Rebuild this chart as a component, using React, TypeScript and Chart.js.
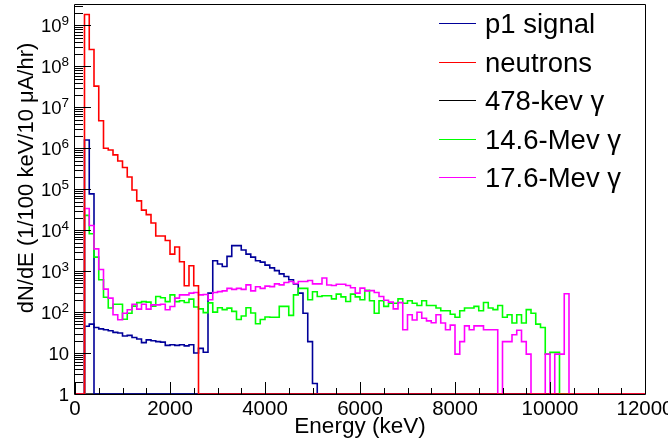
import React, { useEffect, useRef } from 'react';
import { Chart, registerables } from 'chart.js';

Chart.register(...registerables);

// ---- axis definitions ----
const BIN_WIDTH = 100; // keV per bin
const X_MIN = 0;
const X_MAX = 12000;
const Y_MIN = 1;
const Y_MAX = Math.pow(10, 9.5);
const xTickLabels = ['0', '2000', '4000', '6000', '8000', '10000', '12000'];
const yTickDecades = [0, 1, 2, 3, 4, 5, 6, 7, 8, 9];
const xTitle = 'Energy (keV)';
const yTitle = 'dN/dE (1/100 keV/10 \u03bcA/hr)';

const legendLabels = ['p1 signal', 'neutrons', '478-kev \u03b3', '14.6-Mev \u03b3', '17.6-Mev \u03b3'];

// ---- histogram contents, 100 keV bins from 0 to 12000 keV ----
const p1Signal = [
  0, 0, 45, 51, 42, 39, 37, 35, 32, 31, 26, 27, 24, 22, 18, 21, 20, 19, 18.5, 15.4,
  16, 15.4, 16, 15, 16, 10, 13, 10.5, 290, 1800, 1500, 1300, 2300, 4200, 4200, 3300, 2600, 2200, 1800, 1660,
  1400, 1200, 1030, 860, 740, 615, 490, 290, 94, 19, 1.8, 0, 0, 0, 0, 0, 0, 0, 0, 0,
  0, 0, 0, 0, 0, 0, 0, 0, 0, 0, 0, 0, 0, 0, 0, 0, 0, 0, 0, 0,
  0, 0, 0, 0, 0, 0, 0, 0, 0, 0, 0, 0, 0, 0, 0, 0, 0, 0, 0, 0,
  0, 0, 0, 0, 0, 0, 0, 0, 0, 0, 0, 0, 0, 0, 0, 0, 0, 0, 0, 0,
];

const p1Peak = [
  0, 0, 1.6e6, 7.7e4, 0, 0, 0, 0, 0, 0, 0, 0, 0, 0, 0, 0, 0, 0, 0, 0,
  0, 0, 0, 0, 0, 0, 0, 0, 0, 0, 0, 0, 0, 0, 0, 0, 0, 0, 0, 0,
  0, 0, 0, 0, 0, 0, 0, 0, 0, 0, 0, 0, 0, 0, 0, 0, 0, 0, 0, 0,
  0, 0, 0, 0, 0, 0, 0, 0, 0, 0, 0, 0, 0, 0, 0, 0, 0, 0, 0, 0,
  0, 0, 0, 0, 0, 0, 0, 0, 0, 0, 0, 0, 0, 0, 0, 0, 0, 0, 0, 0,
  0, 0, 0, 0, 0, 0, 0, 0, 0, 0, 0, 0, 0, 0, 0, 0, 0, 0, 0, 0,
];

const neutrons = [
  0, 0, 1.85e9, 2.6e8, 3.3e7, 4.7e6, 1.0e6, 9.1e5, 6.9e5, 4.9e5, 3.4e5, 2.0e5, 9.6e4, 5.2e4, 3.1e4, 2.4e4, 1.5e4, 7200, 7200, 5600,
  2600, 3900, 1700, 440, 1350, 440, 0, 0, 0, 0, 0, 0, 0, 0, 0, 0, 0, 0, 0, 0,
  0, 0, 0, 0, 0, 0, 0, 0, 0, 0, 0, 0, 0, 0, 0, 0, 0, 0, 0, 0,
  0, 0, 0, 0, 0, 0, 0, 0, 0, 0, 0, 0, 0, 0, 0, 0, 0, 0, 0, 0,
  0, 0, 0, 0, 0, 0, 0, 0, 0, 0, 0, 0, 0, 0, 0, 0, 0, 0, 0, 0,
  0, 0, 0, 0, 0, 0, 0, 0, 0, 0, 0, 0, 0, 0, 0, 0, 0, 0, 0, 0,
];

const gamma478 = [
  0, 0, 0, 0, 0, 0, 0, 0, 0, 0, 0, 0, 0, 0, 0, 0, 0, 0, 0, 0,
  0, 0, 0, 0, 0, 0, 0, 0, 0, 0, 0, 0, 0, 0, 0, 0, 0, 0, 0, 0,
  0, 0, 0, 0, 0, 0, 0, 0, 0, 0, 0, 0, 0, 0, 0, 0, 0, 0, 0, 0,
  0, 0, 0, 0, 0, 0, 0, 0, 0, 0, 0, 0, 0, 0, 0, 0, 0, 0, 0, 0,
  0, 0, 0, 0, 0, 0, 0, 0, 0, 0, 0, 0, 0, 0, 0, 0, 0, 0, 0, 0,
  0, 0, 0, 0, 0, 0, 0, 0, 0, 0, 0, 0, 0, 0, 0, 0, 0, 0, 0, 0,
];

const gamma14_6 = [
  0, 0, 2.3e4, 8200, 2200, 615, 230, 126, 156, 156, 67, 94, 140, 170, 180, 175, 140, 240, 225, 180,
  263, 180, 189, 172, 208, 133, 120, 97, 168, 100, 128, 115, 125, 104, 66, 80, 128, 95, 52, 66,
  76, 75, 75, 138, 138, 83, 263, 380, 380, 200, 315, 240, 250, 250, 210, 275, 235, 182, 275, 235,
  200, 340, 190, 94, 190, 138, 165, 165, 210, 165, 190, 165, 145, 190, 145, 145, 126, 108, 108, 89,
  75, 108, 126, 126, 138, 108, 172, 126, 115, 145, 75, 86, 54, 86, 54, 115, 94, 51, 42, 9.4,
  10.4, 10.4, 0, 0, 0, 0, 0, 0, 0, 0, 0, 0, 0, 0, 0, 0, 0, 0, 0, 0,
];

const gamma17_6 = [
  0, 0, 3.4e4, 1.3e4, 3500, 1100, 365, 220, 86, 65, 94, 114, 156, 118, 156, 118, 150, 150, 156, 114,
  137, 220, 263, 263, 290, 300, 263, 270, 200, 300, 316, 330, 380, 360, 380, 360, 462, 330, 415, 380,
  430, 420, 490, 462, 530, 560, 500, 560, 560, 590, 490, 490, 680, 460, 445, 480, 480, 445, 395, 290,
  385, 330, 335, 300, 240, 195, 175, 120, 170, 37, 86, 64, 99, 71, 61, 55, 86, 54, 37, 48,
  9.4, 19, 46, 37, 46, 46, 37, 37, 37, 0, 19, 19, 28, 36, 19, 9.4, 0, 0, 0, 9.4,
  0, 9.4, 9.4, 280, 0, 0, 0, 0, 0, 0, 0, 0, 0, 0, 0, 0, 0, 0, 0, 0,
];

const NAVY = '#000099';
const RED = '#ff0000';
const BLACK = '#000000';
const GREEN = '#00ff00';
const MAGENTA = '#ff00ff';
const legendColors = [NAVY, RED, BLACK, GREEN, MAGENTA];

const FONT = "'Liberation Sans', Arial, Helvetica, sans-serif";

function toSteps(values: number[]) {
  const pts = values.map((v, i) => ({ x: X_MIN + i * BIN_WIDTH, y: Math.max(v, Y_MIN) }));
  const last = values[values.length - 1];
  pts.push({ x: X_MIN + values.length * BIN_WIDTH, y: Math.max(last, Y_MIN) });
  return pts;
}

const rootAxesPlugin = {
  id: 'rootAxes',
  afterDatasetsDraw(chart: any) {
    const ctx: CanvasRenderingContext2D = chart.ctx;
    const { left, right, top, bottom } = chart.chartArea;
    const xs = chart.scales.x;
    const ys = chart.scales.y;
    ctx.save();
    ctx.strokeStyle = '#000';
    ctx.lineWidth = 1;
    // frame
    ctx.beginPath();
    ctx.rect(Math.round(left) - 0.5, Math.round(top) - 0.5, Math.round(right - left) + 1, Math.round(bottom - top) + 1);
    ctx.stroke();

    // y ticks
    ctx.beginPath();
    for (const d of yTickDecades) {
      for (let m = 1; m <= 9; m++) {
        const v = m * Math.pow(10, d);
        if (v > Y_MAX) break;
        const y = Math.round(ys.getPixelForValue(v)) + 0.5;
        const len = m === 1 ? 16 : 8;
        ctx.moveTo(left, y);
        ctx.lineTo(left + len, y);
      }
    }
    // x ticks
    for (let e = X_MIN; e <= X_MAX; e += 500) {
      const x = Math.round(xs.getPixelForValue(e)) + 0.5;
      const len = e % 2000 === 0 ? 12 : 6;
      ctx.moveTo(x, bottom);
      ctx.lineTo(x, bottom - len);
    }
    ctx.stroke();

    // x labels
    ctx.fillStyle = '#000';
    ctx.font = `20.5px ${FONT}`;
    ctx.textAlign = 'center';
    ctx.textBaseline = 'alphabetic';
    xTickLabels.forEach((lab) => {
      const x = xs.getPixelForValue(Number(lab));
      ctx.fillText(lab, x, 415);
    });

    // y labels
    const labRight = 69;
    for (const d of yTickDecades) {
      const y = ys.getPixelForValue(Math.pow(10, d));
      if (d === 0) {
        ctx.font = `18.5px ${FONT}`;
        ctx.textAlign = 'right';
        ctx.fillText('1', labRight, y + 6.5);
      } else if (d === 1) {
        ctx.font = `18.5px ${FONT}`;
        ctx.textAlign = 'right';
        ctx.fillText('10', labRight, y + 6.5);
      } else {
        ctx.font = `13.5px ${FONT}`;
        ctx.textAlign = 'right';
        const exp = String(d);
        const ew = ctx.measureText(exp).width;
        ctx.fillText(exp, labRight, y - 0.5);
        ctx.font = `18.5px ${FONT}`;
        ctx.fillText('10', labRight - ew, y + 7);
      }
    }

    // axis titles
    ctx.font = `22.5px ${FONT}`;
    ctx.textAlign = 'center';
    ctx.fillText(xTitle, (left + right) / 2, 433);
    ctx.save();
    ctx.translate(33, 178);
    ctx.rotate(-Math.PI / 2);
    ctx.font = `22px ${FONT}`;
    ctx.fillText(yTitle, 0, 0);
    ctx.restore();

    // legend
    const legendY = [23.3, 61.7, 100, 139.3, 176.7];
    const legendFont = 27.5;
    ctx.font = `${legendFont}px ${FONT}`;
    ctx.textAlign = 'left';
    legendLabels.forEach((lab, i) => {
      const y = legendY[i];
      ctx.strokeStyle = legendColors[i];
      ctx.lineWidth = 1;
      ctx.beginPath();
      ctx.moveTo(439, Math.round(y) + 0.5);
      ctx.lineTo(476, Math.round(y) + 0.5);
      ctx.stroke();
      ctx.fillStyle = '#000';
      ctx.fillText(lab, 485, y + legendFont * 0.358);
    });
    ctx.restore();
  },
};

export default function App() {
  const canvasRef = useRef<HTMLCanvasElement | null>(null);

  useEffect(() => {
    document.body.style.margin = '0';
    const canvas = canvasRef.current;
    if (!canvas) return;
    const mk = (label: string, values: number[], color: string) => ({
      label,
      data: toSteps(values),
      borderColor: color,
      backgroundColor: color,
      borderWidth: 1.6,
      stepped: 'before' as const,
      pointRadius: 0,
      fill: false,
    });
    // dataset 0 is drawn on top in Chart.js
    const datasets = [
      mk(legendLabels[1], neutrons, RED),
      mk(legendLabels[4], gamma17_6, MAGENTA),
      mk(legendLabels[3], gamma14_6, GREEN),
      mk('p1 peak', p1Peak, NAVY),
      mk(legendLabels[0], p1Signal, NAVY),
      mk(legendLabels[2], gamma478, BLACK),
    ];
    const chart = new Chart(canvas, {
      type: 'line',
      data: { datasets },
      options: {
        animation: false,
        responsive: false,
        devicePixelRatio: 1,
        layout: { padding: { left: 0, right: 23, top: 5, bottom: 0 } },
        plugins: { legend: { display: false }, tooltip: { enabled: false } },
        elements: { point: { radius: 0 }, line: { tension: 0 } },
        scales: {
          x: {
            type: 'linear',
            min: X_MIN,
            max: X_MAX,
            ticks: { display: false },
            grid: { display: false },
            border: { display: false },
            afterFit: (s: any) => { s.height = 51; },
          },
          y: {
            type: 'logarithmic',
            min: Y_MIN,
            max: Y_MAX,
            ticks: { display: false },
            grid: { display: false },
            border: { display: false },
            afterFit: (s: any) => { s.width = 75; },
          },
        },
      } as any,
      plugins: [rootAxesPlugin],
    });
    return () => chart.destroy();
  }, []);

  return (
    <div style={{ width: 668, height: 445, background: '#fff' }}>
      <canvas ref={canvasRef} width={668} height={445} style={{ display: 'block' }} />
    </div>
  );
}
